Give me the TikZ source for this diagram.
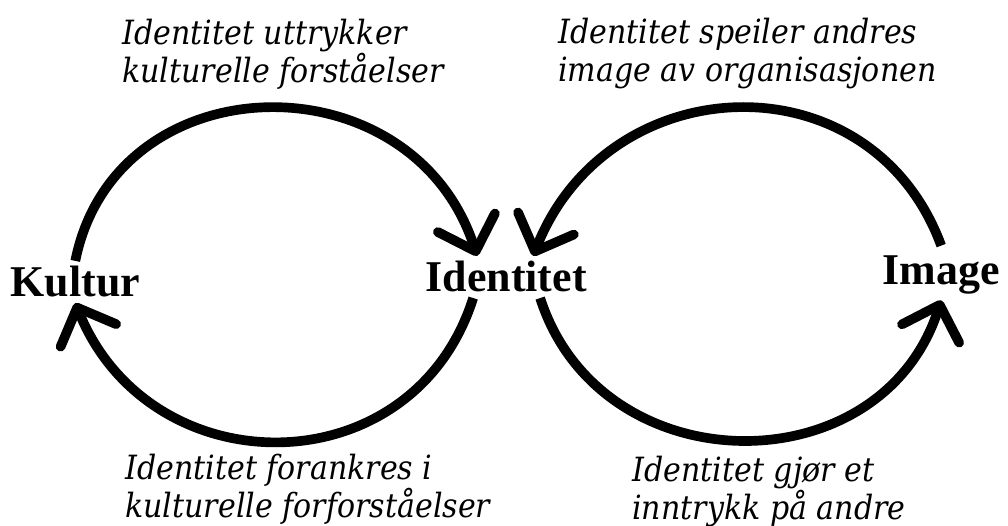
\documentclass[tikz,border=0pt]{standalone}
\usepackage{fontspec}
\setmainfont{Liberation Serif}
\newfontfamily\notefont[FakeStretch=0.9]{DejaVu Serif}
\usetikzlibrary{arrows.meta}

\begin{document}
\begin{tikzpicture}[
	flow/.style={line width=5.5pt,-{Straight Barb[length=6mm,width=12mm,round]}},
	place/.style={inner sep=3pt,anchor=base west,font=\fontsize{25}{30}\selectfont\bfseries},
	note/.style={inner sep=0pt,align=left,anchor=base west,font=\notefont\itshape\fontsize{19}{22}\selectfont}]
	\useasboundingbox (0,0) rectangle (20.16,10.52);
	% the three places
	\node[place] (kultur) at (0.1,4.58) {Kultur};
	\node[place] (identitet) at (8.4,4.68) {Identitet};
	\node[place] (image) at (17.54,4.82) {Image};
	% the two loops
	\draw[flow] (kultur.north) .. controls +(0.8,4.0) and +(-1.3,4.0) .. ([xshift=-0.58cm]identitet.north);
	\draw[flow] ([xshift=-0.66cm]identitet.south) .. controls +(-1.2,-3.8) and +(1.5,-3.7) .. (kultur.south);
	\draw[flow] ([yshift=0.1cm]image.north) .. controls +(-1.4,3.8) and +(1.5,3.8) .. ([xshift=0.54cm]identitet.north);
	\draw[flow] ([xshift=0.68cm]identitet.south) .. controls +(1.2,-3.75) and +(-1.2,-3.75) .. (image.south);
	% notes (placed at the baseline of the second line)
	\node[note] (uttrykk) at (2.44,8.86) {Identitet uttrykker\\kulturelle forståelser};
	\node[note] (speil) at (11.16,8.88) {Identitet speiler andres\\image av organisasjonen};
	\node[note] (forankr) at (2.5,0.16) {Identitet forankres i\\kulturelle forforståelser};
	\node[note] (inntrykk) at (12.64,0.12) {Identitet gjør et\\inntrykk på andre};
\end{tikzpicture}
\end{document}
